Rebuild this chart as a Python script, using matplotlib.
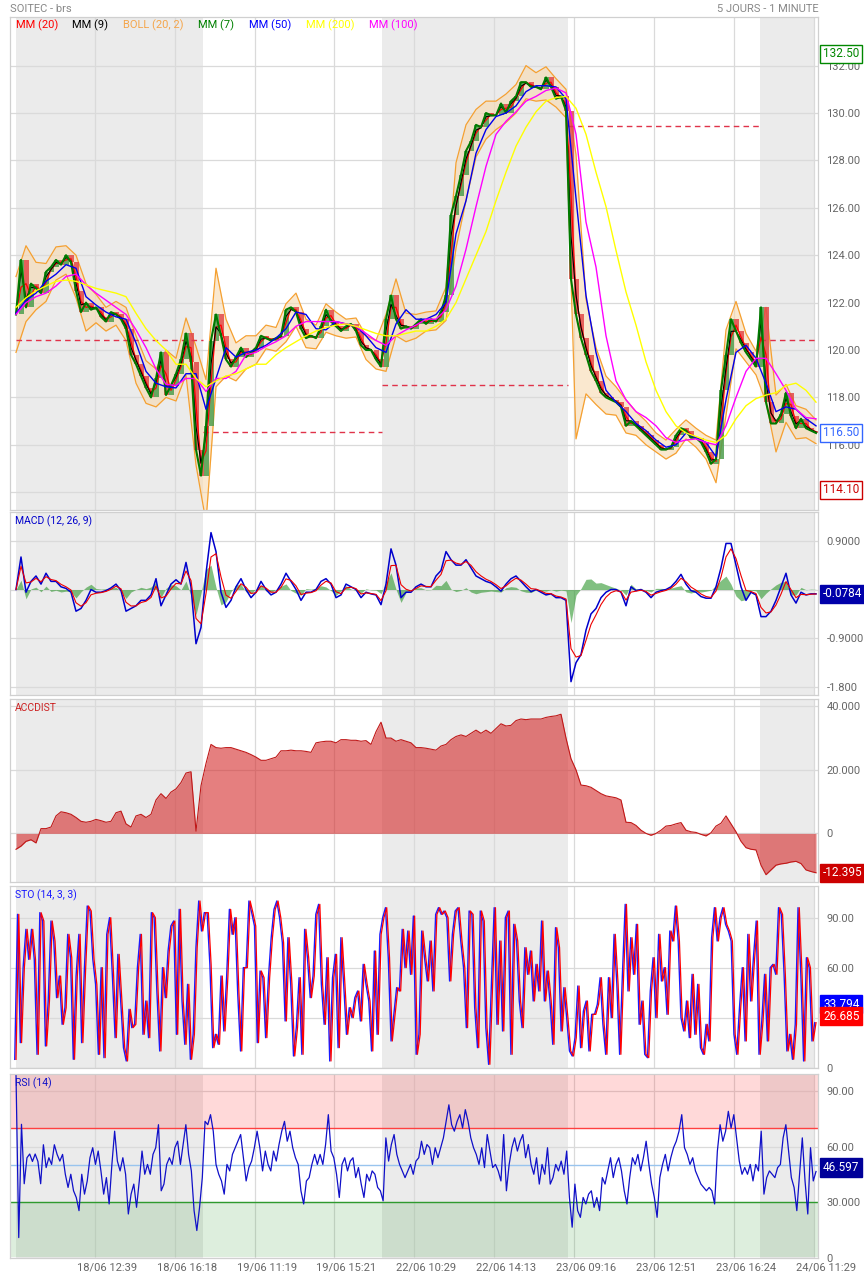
import numpy as np
import pandas as pd
import matplotlib
matplotlib.use("Agg")
import matplotlib.pyplot as plt
from matplotlib.transforms import ScaledTranslation

plt.rcParams['font.family'] = ['Roboto', 'DejaVu Sans']

# ---------------- data ----------------
# close price, one value every ~14 one-minute bars
close = [121.5, 123.8, 121.8, 122.8, 122.6, 122.4, 123.3, 123.5, 123.8, 123.6,
         124.0, 123.7, 122.5, 121.6, 122.0, 121.7, 121.8, 121.4, 121.2, 121.6,
         121.5, 121.3, 120.9, 119.8, 119.4, 118.9, 118.4, 118.0, 118.8, 119.9,
         118.1, 118.5, 119.0, 119.6, 120.7, 119.5, 115.8, 114.7, 116.8, 120.4,
         121.5, 120.6, 119.6, 119.3, 119.7, 120.1, 119.7, 119.9, 120.1, 120.6,
         120.5, 120.4, 120.5, 120.6, 121.7, 121.8, 121.6, 120.9, 120.5, 120.6,
         120.5, 121.0, 121.7, 121.2, 121.0, 120.8, 121.0, 121.1, 120.8, 120.2,
         120.0, 120.0, 119.6, 119.3, 121.3, 122.3, 121.3, 120.9, 121.0, 120.9,
         121.1, 121.3, 121.1, 121.3, 121.2, 121.6, 122.3, 125.7, 126.5, 127.4,
         128.4, 128.8, 129.5, 129.4, 130.0, 129.9, 129.9, 130.4, 130.0, 130.5,
         130.7, 131.3, 131.3, 131.1, 131.1, 131.0, 131.5, 131.1, 130.6, 130.7,
         130.1, 123.0, 121.5, 120.5, 119.8, 119.1, 118.7, 118.2, 118.0, 117.9,
         117.8, 117.6, 116.8, 117.0, 116.8, 116.6, 116.4, 116.2, 116.0, 115.8,
         115.8, 115.9, 116.4, 116.7, 116.6, 116.3, 116.3, 116.1, 115.7, 115.2,
         115.4, 118.3, 119.8, 121.3, 120.8, 120.3, 119.9, 119.6, 119.3, 121.8,
         117.8, 116.9, 116.9, 117.3, 118.2, 117.2, 116.7, 117.1, 116.7, 116.6,
         116.5]

# slower averages, one value every two close samples
mm50 = [121.55, 122.1, 122.4, 122.9, 123.2, 123.6, 123.45, 122.25, 121.9, 121.6,
        121.4, 121.3, 120.3, 119.1, 118.6, 118.45, 118.4, 119.0, 119.0, 117.5,
        118.8, 120.1, 119.7, 119.9, 120.0, 120.2, 120.5, 120.9, 121.6, 121.5,
        120.9, 120.85, 121.2, 121.1, 121.0, 120.6, 120.1, 119.9, 121.1, 121.7,
        121.3, 121.3, 121.5, 122.0, 124.9, 126.3, 128.3, 129.3, 129.85, 130.0,
        130.3, 130.9, 131.15, 131.15, 131.1, 130.6, 126.4, 122.3, 119.9, 118.3,
        117.8, 117.4, 116.9, 116.6, 116.2, 115.9, 116.0, 116.5, 116.3, 116.1,
        115.5, 117.9, 119.9, 120.2, 119.65, 118.6, 117.4, 117.6, 117.5, 117.1,
        116.8]
mm100 = [121.5, 122.0, 122.25, 122.4, 122.7, 123.1, 123.2, 122.75, 122.4, 122.1,
         121.8, 121.5, 120.85, 120.1, 119.2, 118.55, 118.5, 118.8, 118.8, 118.25,
         118.8, 118.8, 119.1, 119.8, 119.9, 120.15, 120.35, 120.6, 121.0, 121.2,
         121.2, 121.2, 121.2, 121.1, 121.0, 120.7, 120.4, 120.2, 120.6, 120.85,
         121.05, 121.3, 121.3, 121.7, 122.7, 124.25, 126.05, 127.75, 129.1, 129.65,
         130.05, 130.5, 130.7, 130.95, 131.05, 130.85, 129.1, 125.4, 123.5, 120.6,
         118.7, 117.9, 117.4, 117.15, 116.8, 116.3, 116.1, 116.2, 116.25, 116.1,
         116.0, 116.8, 118.0, 119.1, 119.65, 119.65, 119.0, 118.3, 117.5, 117.15,
         117.1]
mm200 = [121.8, 122.2, 122.5, 122.7, 122.9, 122.95, 122.9, 122.75, 122.6, 122.5,
         122.4, 122.25, 121.55, 120.9, 120.4, 120.0, 119.4, 119.4, 118.8, 118.45,
         118.7, 118.9, 119.0, 119.2, 119.4, 119.4, 119.8, 120.1, 120.35, 120.6,
         120.8, 120.95, 121.05, 121.1, 121.0, 120.85, 120.7, 120.6, 120.6, 120.7,
         120.8, 120.8, 121.0, 121.3, 122.0, 123.0, 124.0, 125.0, 126.3, 127.5,
         128.6, 129.4, 130.05, 130.5, 130.65, 130.7, 130.2, 129.1, 127.5, 126.05,
         124.2, 122.45, 121.05, 119.5, 118.3, 117.4, 116.8, 116.5, 116.35, 116.2,
         116.1, 116.4, 117.1, 117.65, 117.95, 118.1, 118.2, 118.5, 118.6, 118.3,
         117.8]
# half width of the Bollinger band
boll_hw = [1.6, 1.6, 1.0, 0.8, 0.7, 0.6, 0.9, 1.0, 0.6, 0.5,
           0.5, 0.7, 1.0, 0.9, 0.8, 1.0, 0.9, 1.2, 2.5, 3.0,
           2.5, 1.2, 0.8, 0.7, 0.6, 0.5, 0.5, 0.8, 0.7, 0.6,
           0.5, 0.6, 0.5, 0.4, 0.4, 0.5, 0.6, 1.2, 1.2, 0.6,
           0.5, 0.4, 0.4, 0.7, 1.8, 1.6, 1.0, 0.8, 0.6, 0.6,
           0.6, 0.7, 0.6, 0.7, 0.6, 0.6, 6.0, 2.0, 1.2, 0.8,
           0.6, 0.7, 0.5, 0.5, 0.4, 0.4, 0.5, 0.4, 0.4, 0.5,
           0.9, 1.8, 1.0, 0.6, 0.5, 2.0, 1.2, 0.8, 0.7, 0.6,
           0.5]
# previous-close reference level for each session
ref_levels = [120.43, 116.53, 118.51, 129.44, 120.43]

macd = [0.0, 0.6, -0.05, 0.15, 0.25, 0.1, 0.3, 0.15, 0.15, 0.05,
        0.02, -0.05, -0.4, -0.35, -0.2, 0.0, -0.05, -0.05, -0.02, 0.03,
        0.1, -0.02, -0.4, -0.35, -0.3, -0.2, -0.2, -0.1, 0.2, -0.3,
        -0.1, 0.1, 0.18, 0.1, 0.5, 0.05, -1.0, -0.7, 0.3, 1.05,
        0.7, -0.05, -0.33, -0.2, 0.05, 0.2, 0.0, -0.15, -0.05, 0.15,
        0.0, -0.1, -0.05, 0.1, 0.3, 0.15, 0.0, -0.2, -0.05, -0.05,
        0.0, 0.15, 0.2, 0.1, -0.15, -0.1, 0.1, 0.05, 0.0, -0.15,
        -0.05, -0.08, -0.1, -0.28, 0.1, 0.75, 0.45, -0.15, -0.05, -0.05,
        0.05, 0.1, 0.05, 0.05, 0.25, 0.35, 0.7, 0.55, 0.45, 0.45,
        0.55, 0.4, 0.25, 0.2, 0.15, 0.12, 0.05, -0.03, 0.1, 0.2,
        0.25, 0.15, 0.05, -0.04, 0.0, -0.05, -0.1, -0.08, -0.15, -0.15,
        -0.2, -1.7, -1.35, -1.2, -0.75, -0.45, -0.35, -0.15, -0.05, 0.0,
        0.0, -0.05, -0.3, 0.05, -0.02, 0.0, -0.05, -0.15, -0.05, -0.02,
        0.0, 0.05, 0.15, 0.28, 0.1, -0.02, -0.05, -0.13, -0.16, -0.16,
        0.05, 0.4, 0.85, 0.85, 0.45, 0.05, -0.2, -0.05, -0.1, -0.5,
        -0.5, -0.4, -0.2, 0.05, 0.3, -0.1, -0.25, -0.05, -0.1, -0.08,
        -0.08]

# accumulation / distribution, in thousands
accdist = [-5.0, -4.0, -2.5, -2.0, -3.0, 1.5, 1.5, 2.0, 5.5, 6.8,
           6.5, 6.0, 5.0, 3.8, 3.5, 3.8, 4.4, 4.0, 3.5, 3.8,
           6.5, 7.0, 3.0, 2.0, 5.5, 6.0, 5.0, 6.0, 10.5, 12.5,
           11.0, 13.0, 14.0, 16.0, 19.0, 19.4, 0.7, 15.0, 22.0, 28.0,
           27.0, 26.8, 27.0, 27.0, 26.5, 26.0, 25.5, 24.8, 24.0, 23.0,
           23.0, 23.5, 24.0, 26.0, 26.0, 26.2, 26.0, 26.0, 25.8, 25.5,
           28.5, 28.8, 29.0, 29.0, 28.5, 29.5, 29.5, 29.3, 29.3, 29.0,
           29.2, 28.0, 32.0, 35.0, 30.0, 30.0, 29.0, 29.5, 29.0, 28.5,
           27.0, 27.0, 26.8, 26.5, 26.2, 27.5, 28.0, 29.5, 30.5, 31.0,
           30.5, 31.5, 32.5, 31.5, 32.5, 31.5, 33.0, 34.5, 33.8, 34.0,
           35.5, 36.0, 35.8, 36.0, 36.0, 36.0, 36.5, 36.8, 37.0, 37.5,
           30.0, 23.5, 20.0, 15.2, 15.0, 14.5, 13.5, 12.5, 11.8, 11.5,
           11.2, 10.5, 3.5, 3.4, 2.5, 1.0, 0.0, -0.6, 0.0, 1.0,
           2.3, 2.5, 3.0, 3.4, 1.0, 0.5, 0.3, -0.3, -0.8, 0.2,
           2.3, 3.2, 5.5, 3.0, 0.5, -2.5, -4.5, -5.0, -5.2, -10.0,
           -13.0, -11.5, -10.0, -9.6, -9.4, -9.0, -8.8, -9.5, -11.5, -12.0,
           -12.4]

# stochastic %D, finer sampling
sto_d = [5, 92, 15, 60, 83, 65, 83, 65, 8, 93, 88, 13, 40, 88, 76, 42, 55, 26, 36, 80,
         66, 5, 55, 80, 15, 60, 97, 94, 65, 50, 8, 60, 6, 80, 90, 56, 18, 68, 40, 12,
         4, 35, 24, 26, 60, 80, 20, 40, 18, 93, 90, 45, 10, 60, 42, 70, 85, 88, 20, 95,
         40, 14, 50, 5, 20, 72, 100, 82, 93, 93, 62, 12, 20, 14, 55, 22, 54, 95, 80, 90,
         44, 10, 60, 60, 100, 93, 85, 15, 58, 54, 18, 54, 78, 95, 100, 90, 75, 28, 78, 50,
         7, 24, 54, 8, 83, 66, 42, 55, 92, 98, 50, 26, 66, 4, 54, 68, 12, 78, 50, 20,
         36, 30, 42, 46, 28, 62, 50, 40, 10, 70, 20, 80, 90, 96, 66, 16, 32, 48, 46, 83,
         60, 82, 56, 91, 8, 20, 82, 66, 52, 76, 46, 92, 96, 92, 94, 90, 52, 80, 94, 96,
         76, 60, 24, 94, 92, 36, 12, 94, 88, 24, 2, 50, 96, 26, 76, 22, 90, 94, 8, 86,
         76, 40, 24, 72, 56, 70, 40, 62, 46, 88, 40, 58, 40, 14, 84, 72, 22, 48, 30, 10,
         7, 18, 49, 12, 34, 40, 10, 32, 32, 38, 54, 26, 8, 54, 30, 80, 50, 8, 56, 98,
         46, 78, 56, 86, 26, 40, 8, 6, 46, 66, 30, 80, 52, 60, 32, 82, 76, 97, 76, 30,
         22, 40, 18, 56, 20, 50, 12, 8, 26, 16, 78, 96, 76, 90, 96, 86, 82, 76, 20, 8,
         36, 60, 16, 80, 40, 66, 88, 8, 28, 56, 16, 60, 62, 56, 96, 92, 56, 10, 20, 5,
         26, 96, 56, 4, 66, 60, 16, 27]

rsi = [98.6, 11, 72, 40, 54, 56, 52, 56, 52, 40, 61, 48.7, 54, 50.4, 61, 55.8, 52.2, 55.8, 45.1, 38,
       45.1, 36.2, 32.6, 25.5, 45.1, 34.4, 41.5, 54, 59.4, 50.4, 57.6, 46.9, 34.4, 43.3, 29.1, 50.4, 68.3, 52.2, 46.9, 54,
       45.1, 23.7, 34.4, 39.8, 27.3, 41.5, 57.6, 45.1, 50.4, 45.1, 55.8, 59.4, 71.8, 36.2, 39.8, 50.4, 54, 50.4, 59.4, 62.9,
       50.4, 61.1, 71.8, 55.8, 46.9, 25.5, 14.8, 27.3, 43.3, 73.6, 71.8, 77.2, 68.3, 50.4, 45.1, 41.5, 34.4, 50.4, 46.9, 55.8,
       59.4, 62.9, 66.5, 54, 41.5, 48.7, 52.2, 59.4, 68.3, 59.4, 46.9, 57.6, 50.4, 46.9, 57.6, 52.2, 61.1, 68.3, 73.6, 62.9,
       68.3, 59.4, 54, 50.4, 36.2, 29.1, 41.5, 43.3, 50.4, 55.8, 50.4, 55.8, 50.4, 61.1, 77.2, 57.6, 54, 45.1, 32.6, 50.4,
       54, 46.9, 52.2, 54, 43.3, 48.7, 39.8, 32.6, 45.1, 41.5, 46.9, 45.1, 38, 36.2, 30.8, 64.7, 52.2, 61.1, 66.5, 55.8,
       50.4, 46.9, 43.3, 46.9, 50.4, 45.1, 52.2, 54, 62.9, 55.8, 61.1, 59.4, 50.4, 59.4, 54, 59.4, 64.7, 73.6, 82.5, 71.8,
       68.3, 73.6, 77.2, 70, 79.9, 73.6, 64.7, 59.4, 55.8, 50.4, 59.4, 48.7, 66.5, 57.6, 48.7, 50.4, 46.9, 41.5, 66.5, 36.2,
       50.4, 59.4, 64.7, 57.6, 62.9, 66.5, 54, 61.1, 50.4, 45.1, 54, 39.8, 50.4, 45.1, 59.4, 39.8, 43.3, 50.4, 46.9, 52.2,
       45.1, 57.6, 32.6, 16.6, 39.8, 25.5, 21.9, 32.6, 29.1, 34.4, 36.2, 27.3, 32.6, 25.5, 43.3, 39.8, 46.9, 54, 43.3, 50.4,
       54, 46.9, 36.2, 29.1, 43.3, 54, 50.4, 55.8, 46.9, 54, 62.9, 50.4, 39.8, 32.6, 21.9, 43.3, 50.4, 55.8, 46.9, 54,
       59.4, 62.9, 68.3, 77.2, 59.4, 55.8, 50.4, 54, 46.9, 43.3, 39.8, 38, 36.2, 38, 36.2, 29.1, 57.6, 71.8, 62.9, 68.3,
       79, 70, 77.2, 64.7, 52.2, 45.1, 48.7, 45.1, 50.4, 41.5, 50.4, 46.9, 68.3, 34.4, 43.3, 46.9, 45.1, 43.3, 48.7, 50.4,
       64.7, 71.8, 57.6, 43.3, 38, 25.5, 45.1, 64.7, 41.5, 23.7, 59.4, 41.5, 46.6]

x_labels = ['18/06 12:39', '18/06 16:18', '19/06 11:19', '19/06 15:21', '22/06 10:29',
            '22/06 14:13', '23/06 09:16', '23/06 12:51', '23/06 16:24', '24/06 11:29']
high_price, last_price, low_price = 132.50, 116.50, 114.10
last_macd = -0.0784
last_acc = -12.395
last_k, last_d = 33.794, 26.685
last_rsi = 46.597

# ---------------- layout ----------------
W, H = 864, 1278
fig = plt.figure(figsize=(W / 100, H / 100), dpi=100)

n = len(close)
xs = np.arange(n)
xs2 = np.arange(0, n, 2)
xlim = (-1.2, 160.4)
tick_pos = [15.8, 31.8, 47.8, 63.6, 79.6, 95.6, 111.6, 127.6, 143.6, 159.6]
sessions = [(0, 37.4), (73.2, 110.4), (148.8, 159.6)]
day_edges = [0, 37.4, 73.2, 110.4, 148.8, 160.4]
GRID = '#dadada'
TXT = '#666666'


def panel(top, bottom, ylim, yticks, ylabels):
    ax = fig.add_axes([10 / W, 1 - bottom / H, 808 / W, (bottom - top) / H])
    ax.set_xlim(*xlim)
    ax.set_ylim(*ylim)
    for a, b in sessions:
        ax.axvspan(a, b, color='#ebebeb', lw=0, zorder=0)
    ax.set_xticks(tick_pos)
    ax.set_yticks(yticks)
    ax.set_yticklabels(ylabels)
    ax.set_axisbelow(True)
    ax.grid(True, color=GRID, lw=0.9)
    ax.yaxis.tick_right()
    ax.tick_params(length=0, labelsize=8, labelcolor=TXT, pad=6)
    ax.tick_params(axis='x', labelbottom=False)
    for s in ax.spines.values():
        s.set_color('#d0d0d0')
        s.set_linewidth(0.9)
    return ax


def tag(ax, value, text, fc, ec, tc, dy=0):
    ax.annotate(text, xy=(1, value), xycoords=('axes fraction', 'data'),
                xytext=(5, dy), textcoords='offset pixels', va='center', ha='left',
                fontsize=8.5, color=tc, annotation_clip=False, zorder=10,
                bbox=dict(boxstyle='square,pad=0.22', fc=fc, ec=ec, lw=1))


def label(ax, text, color):
    ax.annotate(text, xy=(0, 1), xycoords='axes fraction', xytext=(5, -9),
                textcoords='offset pixels', va='center', ha='left',
                fontsize=7.5, color=color, zorder=10)


fig.text(10 / W, 1 - 9 / H, 'SOITEC - brs', color='#888888', fontsize=8, va='center')
fig.text(819 / W, 1 - 9 / H, '5 JOURS - 1 MINUTE', color='#888888', fontsize=8,
         va='center', ha='right')

# ---- price panel ----
price_ticks = np.arange(114, 133, 2)
price_labels = ['' if v == 114 else '%.2f' % v for v in price_ticks]
ax = panel(17, 510, (113.25, 134.05), price_ticks, price_labels)
c = pd.Series(close)
mm9 = c.ewm(alpha=0.75).mean()
mm20 = c.rolling(2, min_periods=1).mean()
mid = mm20.values[::2]
hw = np.array(boll_hw)
ax.fill_between(xs2, mid - hw, mid + hw, color='#f8d9b0', alpha=0.6, lw=0, zorder=1)
ax.plot(xs2, mid + hw, color='#f5a030', lw=0.9, zorder=1.5)
ax.plot(xs2, mid - hw, color='#f5a030', lw=0.9, zorder=1.5)

prev = np.r_[close[0], close[:-1]]
body = c.values - prev
cols = np.where(body >= 0, '#4e9e4e', '#e24848')
ax.bar(xs, body, bottom=prev, width=1.0, color=cols, alpha=0.85, zorder=2)

for k, lvl in enumerate(ref_levels):
    ax.hlines(lvl, day_edges[k], day_edges[k + 1], colors='#e0334a',
              linestyles=(0, (4, 3)), lw=1, zorder=2.5)

ax.plot(xs, mm20, color='#ff0000', lw=0.9, zorder=3)
ax.plot(xs, mm9, color='#000000', lw=0.8, zorder=3.1)
ax.plot(xs, c, color='#007a00', lw=1.5, zorder=3.2)
ax.plot(xs2, mm50, color='#0000ee', lw=1.0, zorder=3.3)
ax.plot(xs2, mm100, color='#ff00ff', lw=1.0, zorder=3.4)
ax.plot(xs2, mm200, color='#ffff00', lw=1.0, zorder=3.5)

legend_txt = ['MM (20)', 'MM (9)', 'BOLL (20, 2)', 'MM (7)', 'MM (50)', 'MM (200)', 'MM (100)']
legend_col = ['#ff0000', '#000000', '#f5a54a', '#008000', '#0000ff', '#ffff00', '#ff00ff']
legend_px = [6, 62, 113, 188, 239, 296, 359]
for t, col, px in zip(legend_txt, legend_col, legend_px):
    ax.annotate(t, xy=(0, 1), xycoords='axes fraction', xytext=(px, -8),
                textcoords='offset pixels', va='center', fontsize=8, color=col)

tag(ax, high_price, '%.2f' % high_price, 'white', '#008800', '#008800')
tag(ax, last_price, '%.2f' % last_price, 'white', '#3366ff', '#3366ff')
tag(ax, low_price, '%.2f' % low_price, 'white', '#cc0000', '#cc0000')

# ---- MACD ----
ax = panel(512, 695, (-1.946, 1.43), [0.9, 0, -0.9, -1.8],
           ['0.9000', '', '-0.9000', '-1.800'])
m = pd.Series(macd)
sig = m.ewm(alpha=0.6).mean()
hist = m - sig
ax.fill_between(xs, 0, hist, color='#2e962e', alpha=0.6, lw=0, zorder=1)
ax.plot(xs, m, color='#0000cc', lw=1.1, zorder=2)
ax.plot(xs, sig, color='#ee0000', lw=0.8, zorder=3)
label(ax, 'MACD (12, 26, 9)', '#0000cc')
tag(ax, last_macd, '%.4f' % last_macd, '#0000aa', '#0000aa', 'white')

# ---- ACCDIST ----
ax = panel(699, 882, (-15.3, 42.3), [40, 20, 0], ['40.000', '20.000', '0'])
ax.fill_between(xs, 0, accdist, color='#d42a2a', alpha=0.6, lw=0, zorder=1)
ax.plot(xs, accdist, color='#c01818', lw=0.8, zorder=2)
label(ax, 'ACCDIST', '#cc2222')
tag(ax, last_acc, '%.3f' % last_acc, '#cc0000', '#cc0000', 'white')

# ---- STO ----
ax = panel(886, 1068, (-0.2, 109), [0, 30, 60, 90], ['0', '', '60.00', '90.00'])
xs_sto = np.linspace(0, n - 1, len(sto_d))
ax.plot(xs_sto - 0.25, sto_d, color='#1a1aff', lw=1.0, zorder=2)
ax.plot(xs_sto, sto_d, color='#ff0000', lw=0.9, zorder=3)
label(ax, 'STO (14, 3, 3)', '#1a1aff')
tag(ax, last_k, '%.3f' % last_k, '#0000ff', '#0000ff', 'white', dy=7)
tag(ax, last_d, '%.3f' % last_d, '#ff0000', '#ff0000', 'white', dy=7)

# ---- RSI ----
ax = panel(1074, 1258, (0.7, 99.1), [0, 30, 60, 90], ['0', '30.000', '60.00', '90.00'])
ax.axhspan(70, 99.1, color='#ff2020', alpha=0.17, lw=0, zorder=0.6)
ax.axhspan(0.7, 30, color='#2e9a2e', alpha=0.16, lw=0, zorder=0.6)
ax.axhline(70, color='#ff4040', lw=1, zorder=1)
ax.axhline(30, color='#2e9a2e', lw=1, zorder=1)
ax.axhline(50, color='#99c4ee', lw=1, zorder=1)
xs_rsi = np.linspace(0, n - 1, len(rsi))
ax.plot(xs_rsi, rsi, color='#1010c8', lw=0.9, zorder=2)
label(ax, 'RSI (14)', '#1010c8')
tag(ax, last_rsi, '%.3f' % last_rsi, '#000099', '#000099', 'white', dy=4)

ax.tick_params(axis='x', labelbottom=True, labelsize=8, labelcolor=TXT, pad=3)
ax.set_xticklabels(x_labels)
shift = ScaledTranslation(12 / 100, 0, fig.dpi_scale_trans)
for lab in ax.get_xticklabels():
    lab.set_transform(lab.get_transform() + shift)

fig.savefig('out.png', dpi=100)
